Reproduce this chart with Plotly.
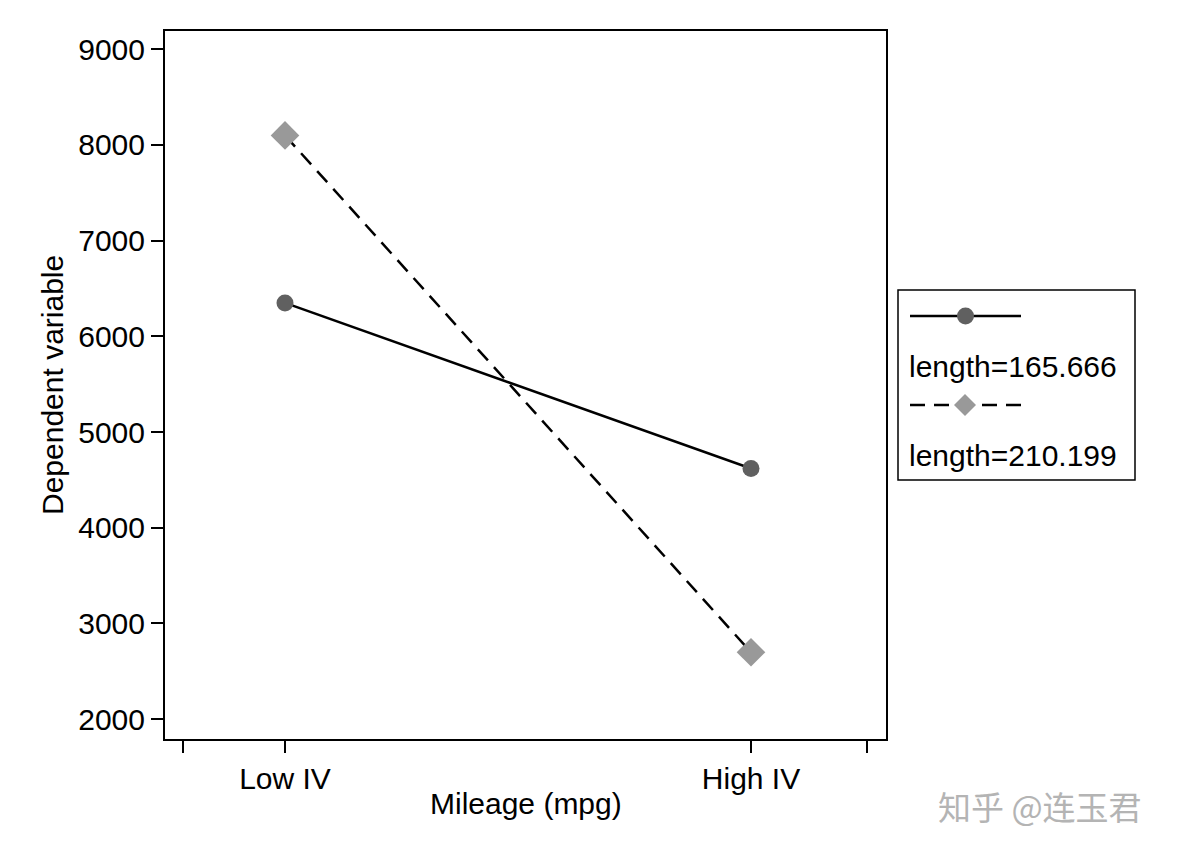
import plotly.graph_objects as go

# ---- data ----
iv_levels = [0, 1]
iv_labels = ["Low IV", "High IV"]
series_names = ["length=165.666", "length=210.199"]
values_short = [6350, 4620]   # length=165.666
values_long = [8100, 2700]    # length=210.199
xtick_vals = [-0.219, 0, 1, 1.249]
xtick_text = ["", "Low IV", "High IV", ""]
ytick_vals = [2000, 3000, 4000, 5000, 6000, 7000, 8000, 9000]

FONT = "Liberation Sans, Arial, sans-serif"
OFF = 8  # page body margin
W, H = 1169, 848
L, R, T, B = 165, 886, 31, 739   # target screen pixels of the plot frame

def px(X):
    return (X - L) / (R - L)

def py(Y):
    return (B - Y) / (B - T)

DASH = "15px,9px"
FS = 30

fig = go.Figure()
fig.add_trace(go.Scatter(
    x=iv_levels, y=values_short, mode="lines+markers", name=series_names[0],
    line=dict(color="black", width=2.5),
    marker=dict(symbol="circle", size=17, color="#606060"),
    showlegend=False))
fig.add_trace(go.Scatter(
    x=iv_levels, y=values_long, mode="lines+markers", name=series_names[1],
    line=dict(color="black", width=2.5, dash=DASH),
    marker=dict(symbol="diamond", size=22, color="#999999"),
    showlegend=False))

shapes = []
annotations = []

# legend box
shapes.append(dict(type="rect", xref="paper", yref="paper",
                   x0=px(898), x1=px(1135), y0=py(290), y1=py(480),
                   line=dict(color="black", width=1.5), fillcolor="white", layer="above"))
# key 1
shapes.append(dict(type="line", xref="paper", yref="paper",
                   x0=px(910), x1=px(1021), y0=py(316), y1=py(316),
                   line=dict(color="black", width=2.5)))
shapes.append(dict(type="circle", xref="paper", yref="paper",
                   x0=px(957), x1=px(974), y0=py(307.5), y1=py(324.5),
                   line=dict(width=0), fillcolor="#606060"))
# key 2
shapes.append(dict(type="line", xref="paper", yref="paper",
                   x0=px(910), x1=px(1021), y0=py(405), y1=py(405),
                   line=dict(color="black", width=2.5, dash=DASH)))
cx, cy, d = 965, 405, 11
shapes.append(dict(type="path", xref="paper", yref="paper",
                   path=f"M {px(cx-d)} {py(cy)} L {px(cx)} {py(cy-d)} L {px(cx+d)} {py(cy)} L {px(cx)} {py(cy+d)} Z",
                   line=dict(width=0), fillcolor="#999999"))

annotations.append(dict(text=series_names[0], xref="paper", yref="paper",
                        x=px(907), y=py(366), xanchor="left", yanchor="middle",
                        showarrow=False, font=dict(family=FONT, size=FS, color="black")))
annotations.append(dict(text=series_names[1], xref="paper", yref="paper",
                        x=px(907), y=py(455), xanchor="left", yanchor="middle",
                        showarrow=False, font=dict(family=FONT, size=FS, color="black")))

# axis titles
annotations.append(dict(text="Dependent variable", xref="paper", yref="paper",
                        x=px(52), y=0.5, xanchor="center", yanchor="middle", textangle=-90,
                        showarrow=False, font=dict(family=FONT, size=FS, color="black")))
annotations.append(dict(text="Mileage (mpg)", xref="paper", yref="paper",
                        x=0.5, y=py(804), xanchor="center", yanchor="middle",
                        showarrow=False, font=dict(family=FONT, size=FS, color="black")))
# watermark
annotations.append(dict(text="知乎 @连玉君", xref="paper", yref="paper",
                        x=px(1040), y=py(806), xanchor="center", yanchor="middle",
                        showarrow=False, font=dict(family="Noto Sans CJK SC", size=33, color="#b4b4b4")))

fig.update_layout(
    width=W, height=H,
    margin=dict(l=L - OFF, r=W - (R - OFF), t=T - OFF, b=H - (B - OFF)),
    plot_bgcolor="white", paper_bgcolor="white",
    font=dict(family=FONT, size=FS, color="black"),
    shapes=shapes, annotations=annotations,
    xaxis=dict(range=[-0.2575, 1.2897], tickvals=xtick_vals, ticktext=xtick_text,
               showgrid=False, zeroline=False, showline=True, linecolor="black", linewidth=2,
               mirror=True, ticks="outside", ticklen=12, tickwidth=2, tickcolor="black",
               tickfont=dict(size=FS)),
    yaxis=dict(range=[1793, 9191], tickvals=ytick_vals,
               showgrid=False, zeroline=False, showline=True, linecolor="black", linewidth=2,
               mirror=True, ticks="outside", ticklen=12, tickwidth=2, tickcolor="black",
               tickfont=dict(size=FS)),
)

fig.write_html("out.html")
